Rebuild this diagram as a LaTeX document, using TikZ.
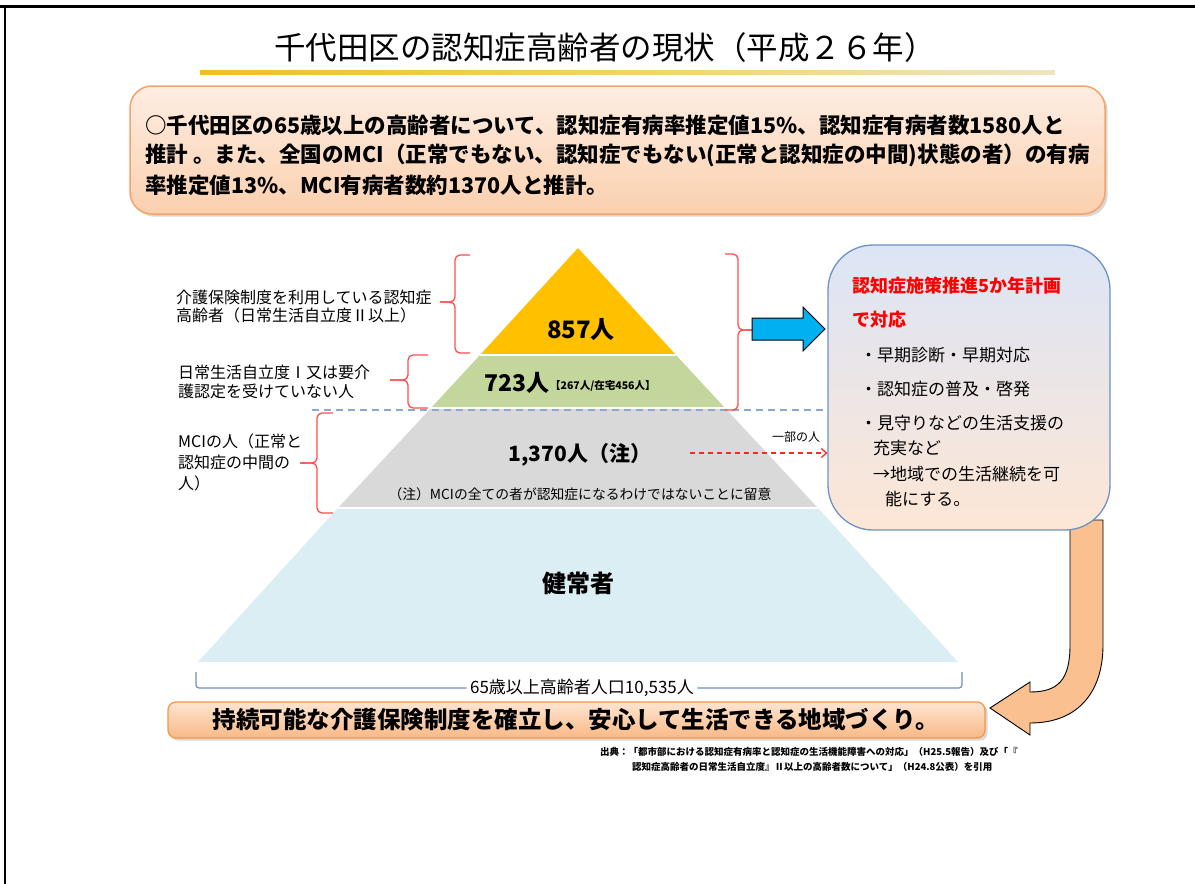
\documentclass[tikz,border=0pt]{standalone}
\usepackage{fontspec}
\setmainfont{Noto Sans CJK JP}
\usetikzlibrary{shadows,arrows.meta}
\definecolor{pgold}{HTML}{FFC000}
\definecolor{pgreen}{HTML}{C3D69B}
\definecolor{pgray}{HTML}{D9D9D9}
\definecolor{pblue}{HTML}{DBEEF4}
\definecolor{bracered}{HTML}{FF4D4D}
\definecolor{dashblue}{HTML}{8EA9CF}
\definecolor{boxborder}{HTML}{F4A36C}
\definecolor{peachtop}{HTML}{FDEDE2}
\definecolor{peachbot}{HTML}{FBD0AE}
\definecolor{arrowblue}{HTML}{00B0F0}
\definecolor{rboxline}{HTML}{6C93C7}
\definecolor{rboxtop}{HTML}{DCE5F6}
\definecolor{rboxbot}{HTML}{FDE6D5}
\definecolor{curveorange}{HTML}{FAC08F}
\definecolor{baselinec}{HTML}{6F8FC0}
\definecolor{barline}{HTML}{F79646}
\definecolor{bartop}{HTML}{FDE5D2}
\definecolor{barbot}{HTML}{F9B985}
\definecolor{ulgold}{HTML}{F4BE1E}
\definecolor{ulpale}{HTML}{EEE6BC}
\tikzset{
  bracestyle/.style={draw=bracered, line width=1.3pt, rounded corners=5pt},
  layer/.style={draw=white, line width=1.5pt},
  lbl/.style={anchor=west, inner sep=0pt, font=\fontsize{16}{16}\selectfont},
  boxtxt/.style={anchor=west, inner sep=0pt, font=\bfseries\fontsize{21.5}{21.5}\selectfont},
  rtxt/.style={anchor=west, inner sep=0pt, font=\fontsize{17}{17}\selectfont},
}
\begin{document}
\begin{tikzpicture}[x=1pt,y=-1pt]
\useasboundingbox (0,0) rectangle (1195,884);
\fill[white] (0,0) rectangle (1195,884);
% frame
\draw[line width=3pt] (0,6) -- (1195,6);
\draw[line width=2pt] (5,6) -- (5,884);
% title
\node (title) at (605,48) {\fontsize{31.5}{31.5}\selectfont 千代田区の認知症高齢者の現状（平成２６年）};
\shade[left color=ulgold, right color=ulpale] (200,70) rectangle (1055,74);
% summary box
\node[draw=boxborder, line width=1.5pt, rounded corners=22pt, top color=peachtop, bottom color=peachbot,
      minimum width=975pt, minimum height=128pt, drop shadow={opacity=0.3}] (summary) at (617.5,150) {};
\node[boxtxt] (s1) at (145,125) {○千代田区の65歳以上の高齢者について、認知症有病率推定値15\%、認知症有病者数1580人と};
\node[boxtxt] (s2) at (145,155) {推計 。また、全国のMCI（正常でもない、認知症でもない(正常と認知症の中間)状態の者）の有病};
\node[boxtxt] (s3) at (145,185) {率推定値13\%、MCI有病者数約1370人と推計。};
% curved orange arrow (behind right box)
\draw[fill=curveorange, line width=0.9pt] (1070,520) -- (1070,645) .. controls (1070,680) and (1058,692) .. (1030,692)
  -- (1030,682) -- (990,708) -- (1030,735) -- (1030,723) .. controls (1080,723) and (1103,690) .. (1103,645) -- (1103,520) -- cycle;
% pyramid
\fill[pblue] (198,662) -- (958,662) -- (818,508) -- (338,508) -- cycle;
\fill[pgray] (338,508) -- (818,508) -- (725,408) -- (431,408) -- cycle;
\fill[pgreen] (431,408) -- (725,408) -- (676,355) -- (480,355) -- cycle;
\fill[pgold] (480,355) -- (676,355) -- (578,248) -- cycle;
\draw[layer] (338,508) -- (818,508);
\draw[layer] (431,408) -- (725,408);
\draw[layer] (480,355) -- (676,355);
% dashed separator
\draw[dashblue, line width=1.8pt, dash pattern=on 7pt off 5pt] (312,410) -- (828,410);
% pyramid texts
\node (n857) at (581,330) {\bfseries\fontsize{24}{24}\selectfont 857人};
\node[anchor=east, inner sep=0pt] (n723) at (550,383) {\bfseries\fontsize{23}{23}\selectfont 723人};
\node[anchor=west, inner sep=0pt] (n723s) at (550,386) {\bfseries\fontsize{10.5}{10.5}\selectfont 【267人/在宅456人】};
\node (n1370) at (580,455) {\bfseries\fontsize{21}{21}\selectfont 1,370人（注）};
\node (note) at (580,494) {\fontsize{13.8}{13.8}\selectfont （注）MCIの全ての者が認知症になるわけではないことに留意};
\node (healthy) at (578,583) {\bfseries\fontsize{24}{24}\selectfont 健常者};
\node (part) at (796,437) {\fontsize{12}{12}\selectfont 一部の人};
% left labels
\node[lbl] (l1a) at (176,297) {介護保険制度を利用している認知症};
\node[lbl] (l1b) at (176,315) {高齢者（日常生活自立度Ⅱ以上）};
\node[lbl] (l2a) at (178,372) {日常生活自立度Ⅰ又は要介};
\node[lbl] (l2b) at (178,391) {護認定を受けていない人};
\node[lbl] (l3a) at (178,441) {MCIの人（正常と};
\node[lbl] (l3b) at (178,462) {認知症の中間の};
\node[lbl] (l3c) at (178,483) {人）};
% braces
\draw[bracestyle] (470,255) -- (455,255) -- (455,302) -- (440,302);
\draw[bracestyle] (440,302) -- (455,302) -- (455,353) -- (470,353);
\draw[bracestyle] (428,355) -- (408,355) -- (408,380) -- (390,380);
\draw[bracestyle] (390,380) -- (408,380) -- (408,408) -- (428,408);
\draw[bracestyle] (333,413) -- (317,413) -- (317,463) -- (300,463);
\draw[bracestyle] (300,463) -- (317,463) -- (317,513) -- (333,513);
\draw[bracestyle] (725,254) -- (738,254) -- (738,330) -- (752,330);
\draw[bracestyle] (752,330) -- (738,330) -- (738,410) -- (725,410);
% right box
\node[draw=rboxline, line width=1.3pt, rounded corners=45pt, top color=rboxtop, bottom color=rboxbot,
      minimum width=282pt, minimum height=285pt] (plan) at (969,387.5) {};
\node[anchor=west, inner sep=0pt, text=red] (p1) at (852,286) {\bfseries\fontsize{18}{18}\selectfont 認知症施策推進5か年計画};
\node[anchor=west, inner sep=0pt, text=red] (p2) at (852,320) {\bfseries\fontsize{18}{18}\selectfont で対応};
\node[rtxt] (b1) at (860,355) {・早期診断・早期対応};
\node[rtxt] (b2) at (860,389) {・認知症の普及・啓発};
\node[rtxt] (b3) at (860,423) {・見守りなどの生活支援の};
\node[rtxt] (b4) at (873,448) {充実など};
\node[rtxt] (b5) at (873,474) {→地域での生活継続を可};
\node[rtxt] (b6) at (885,499) {能にする。};
% blue block arrow
\draw[fill=arrowblue, line width=1pt] (752,318) -- (803,318) -- (803,307) -- (825,329) -- (803,351) -- (803,340) -- (752,340) -- cycle;
% red dashed arrow
\coordinate (dstart) at (690,453);
\draw[red!85, line width=1.3pt, dash pattern=on 5pt off 4pt, -{Straight Barb[length=5pt,width=9pt]}] (dstart) -- (dstart -| plan.west);
% base bracket
\node (pop) at (582,688) {\fontsize{17}{17}\selectfont 65歳以上高齢者人口10,535人};
\draw[baselinec, line width=1.2pt, rounded corners=3pt] (196,672) -- (196,688) -- (pop.west);
\draw[baselinec, line width=1.2pt, rounded corners=3pt] (pop.east) -- (962,688) -- (962,672);
% bottom bar
\node[draw=barline, line width=1.3pt, rounded corners=8pt, top color=bartop, bottom color=barbot,
      minimum width=817pt, minimum height=36pt, drop shadow={opacity=0.3}] (goal) at (576.5,720) {};
\node (goaltxt) at (576,720) {\bfseries\fontsize{23.5}{23.5}\selectfont 持続可能な介護保険制度を確立し、安心して生活できる地域づくり。};
% source
\node[anchor=west, inner sep=0pt] (src1) at (600,752) {\bfseries\fontsize{9.5}{9.5}\selectfont 出典：「都市部における認知症有病率と認知症の生活機能障害への対応」（H25.5報告）及び「『};
\node[anchor=west, inner sep=0pt] (src2) at (632,767) {\bfseries\fontsize{9.5}{9.5}\selectfont 認知症高齢者の日常生活自立度』Ⅱ以上の高齢者数について」（H24.8公表）を引用};
\end{tikzpicture}
\end{document}
